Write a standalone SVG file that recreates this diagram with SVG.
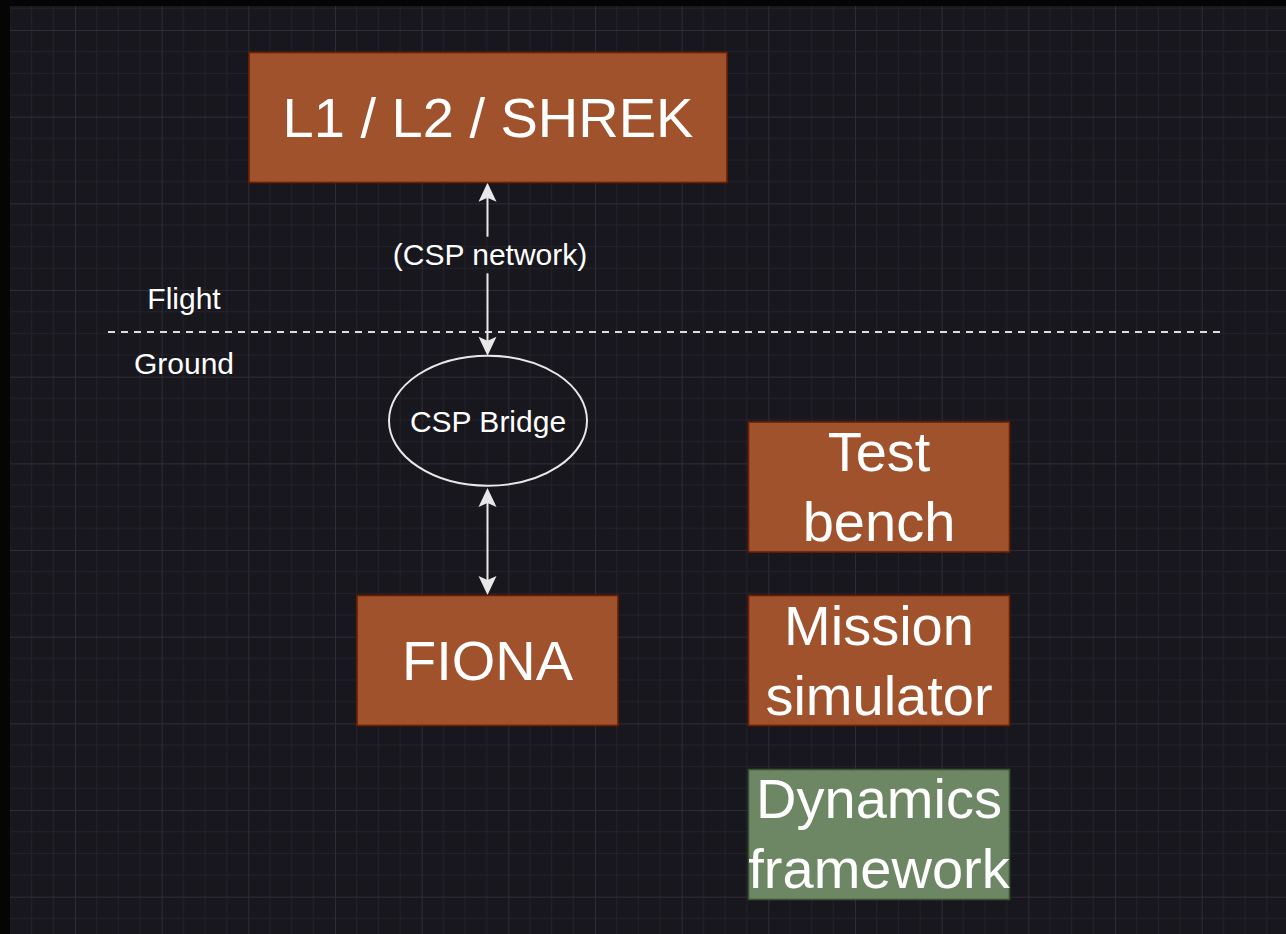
<svg xmlns="http://www.w3.org/2000/svg" width="1286" height="934" viewBox="0 0 1286 934">
  <style>
    .box { fill: #a0522d; stroke: #6d1f00; stroke-width: 1.6; }
    .box-green { fill: #6d8764; stroke: #3a5431; stroke-width: 1.6; }
    .big { font-family: "Liberation Sans", Arial, sans-serif; font-size: 56px; fill: #ffffff; text-anchor: middle; }
    .small { font-family: "Liberation Sans", Arial, sans-serif; font-size: 30px; fill: #ffffff; text-anchor: middle; }
    .link { stroke: #e8e8e8; stroke-width: 2; fill: none; }
  </style>
  <defs>
    <pattern id="grid" x="-11.67" y="30" width="86.67" height="86.67" patternUnits="userSpaceOnUse">
      <rect width="86.67" height="86.67" fill="#18171e"/>
      <path d="M21.67 0V86.67M43.33 0V86.67M65 0V86.67M0 21.67H86.67M0 43.33H86.67M0 65H86.67" stroke="#232129" stroke-width="1"/>
      <path d="M0.5 0V86.67M0 0.5H86.67" stroke="#2e2c34" stroke-width="1"/>
    </pattern>
    <marker id="arrow" markerUnits="userSpaceOnUse" viewBox="-22 -11 24 22" markerWidth="24" markerHeight="22" refX="-10" refY="0" orient="auto-start-reverse">
      <path d="M0 0L-19 -9L-15 0L-19 9Z" fill="#e8e8e8"/>
    </marker>
  </defs>

  <!-- canvas -->
  <rect width="1286" height="934" fill="#050505"/>
  <rect x="10" y="6" width="1276" height="928" fill="url(#grid)"/>

  <!-- flight / ground split -->
  <g id="boundary">
    <line x1="108" y1="332" x2="1224" y2="332" stroke="#dcdcdc" stroke-width="2" stroke-dasharray="7 6"/>
    <text class="small" x="184" y="309">Flight</text>
    <text class="small" x="184" y="374">Ground</text>
  </g>

  <!-- connectors -->
  <g id="connectors">
    <line class="link" x1="487.5" y1="192.7" x2="487.5" y2="236.7" marker-start="url(#arrow)"/>
    <line class="link" x1="487.5" y1="273.3" x2="487.5" y2="345.7" marker-end="url(#arrow)"/>
    <text class="small" x="490" y="265">(CSP network)</text>
    <line class="link" x1="487.5" y1="498" x2="487.5" y2="585" marker-start="url(#arrow)" marker-end="url(#arrow)"/>
  </g>

  <g id="node-shrek">
    <rect class="box" x="249" y="52.5" width="478" height="130"/>
    <text class="big" x="488" y="137">L1 / L2 / SHREK</text>
  </g>

  <g id="node-csp-bridge">
    <ellipse cx="488" cy="420.7" rx="99" ry="65" fill="none" stroke="#e8e8e8" stroke-width="2"/>
    <text class="small" x="488" y="431.5">CSP Bridge</text>
  </g>

  <g id="node-fiona">
    <rect class="box" x="357" y="595.5" width="261" height="130"/>
    <text class="big" x="487.5" y="680">FIONA</text>
  </g>

  <g id="node-test-bench">
    <rect class="box" x="748.5" y="422" width="261" height="130"/>
    <text class="big" x="879" y="471">Test</text>
    <text class="big" x="879" y="541">bench</text>
  </g>

  <g id="node-mission-simulator">
    <rect class="box" x="748.5" y="595.5" width="261" height="130"/>
    <text class="big" x="879" y="645">Mission</text>
    <text class="big" x="879" y="715">simulator</text>
  </g>

  <g id="node-dynamics-framework">
    <rect class="box-green" x="748.5" y="769.5" width="261" height="130"/>
    <text class="big" x="879" y="818">Dynamics</text>
    <text class="big" x="879" y="888">framework</text>
  </g>
</svg>
